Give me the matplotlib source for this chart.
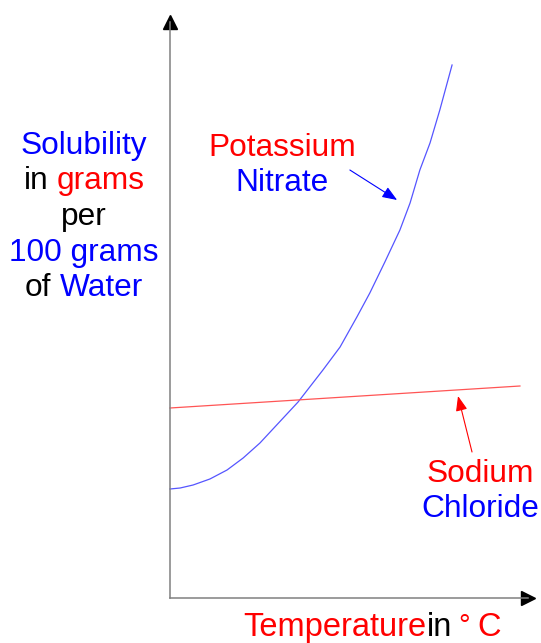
import matplotlib.pyplot as plt
from matplotlib.offsetbox import TextArea, HPacker, VPacker, AnnotationBbox

# Solubility curves (schematic units)
kno3_temp = [0, 2.9, 6.6, 11.4, 16.3, 20.9, 25.7, 36.6, 43.7, 48.6, 53.4,
             57.1, 61.4, 65.7, 68.6, 71.4, 74.3, 77.1, 80.6]
kno3_sol = [54.5, 55, 56.5, 59.5, 64, 70, 77.5, 98, 114, 125.5, 140.5,
            152.5, 168, 184, 197.5, 214, 227.5, 244, 266.5]
nacl_temp = [0, 100]
nacl_sol = [95, 106]

W, H = 541, 643
FONT = 'Liberation Sans'
FS = 22.8
BLUE = '#0000ff'
RED = '#ff0000'


def fig_xy(px, py):
    # pixel position (from top-left) -> figure fraction
    return px / W, 1 - py / H


fig = plt.figure(figsize=(W / 100, H / 100), dpi=100)
ax = fig.add_axes([170 / W, 45 / H, 358 / W, 576 / H])
ax.set_xlim(0, 102.3)
ax.set_ylim(0, 288)
ax.set_xticks([])
ax.set_yticks([])
for side in ['top', 'right']:
    ax.spines[side].set_visible(False)
for side in ['left', 'bottom']:
    ax.spines[side].set_color('#808080')
    ax.spines[side].set_linewidth(1.1)

# arrow heads on the axes
ax.plot(1, 0, '>', color='black', ms=10, transform=ax.transAxes, clip_on=False)
ax.plot(0, 1, '^', color='black', ms=10, transform=ax.transAxes, clip_on=False)

ax.plot(kno3_temp, kno3_sol, color='#5555ff', lw=0.9, clip_on=False)
ax.plot(nacl_temp, nacl_sol, color='#ff5555', lw=0.9, clip_on=False)

# curve labels
ax.annotate('', xy=(64.9, 199), xytext=(51.4, 214),
            arrowprops=dict(arrowstyle='-|>,head_length=0.9,head_width=0.35',
                            color=BLUE, lw=0.8, shrinkA=0, shrinkB=0))
ax.annotate('', xy=(82.3, 101), xytext=(86.3, 73),
            arrowprops=dict(arrowstyle='-|>,head_length=0.9,head_width=0.35',
                            color=RED, lw=0.8, shrinkA=0, shrinkB=0))

tp = dict(fontsize=FS, family=FONT, ha='center', va='center')
fig.text(*fig_xy(282, 148), 'Potassium', color=RED, **tp)
fig.text(*fig_xy(282, 183), 'Nitrate', color=BLUE, **tp)
fig.text(*fig_xy(480, 474), 'Sodium', color=RED, **tp)
fig.text(*fig_xy(480, 509), 'Chloride', color=BLUE, **tp)


# y-axis label, several colours per line
def word_line(parts):
    boxes = [TextArea(t, textprops=dict(color=c, fontsize=FS, family=FONT))
             for t, c in parts]
    return HPacker(children=boxes, sep=6, pad=0, align='baseline')


ylabel_lines = [
    [('Solubility', BLUE)],
    [('in', 'black'), ('grams', RED)],
    [('per', 'black')],
    [('100 grams', BLUE)],
    [('of', 'black'), ('Water', BLUE)],
]
vbox = VPacker(children=[word_line(p) for p in ylabel_lines],
               sep=4, pad=0, align='center')
fig.add_artist(AnnotationBbox(vbox, fig_xy(84, 217), xycoords='figure fraction',
                              frameon=False, box_alignment=(0.5, 0.5), pad=0))

# x-axis label
bl = dict(fontsize=23.5, family=FONT, va='baseline', ha='left')
fig.text(*fig_xy(243, 636), 'Temperature', color=RED, **bl)
fig.text(*fig_xy(427, 636), 'in', color='black', **bl)
fig.text(*fig_xy(458, 634), '\u00b0', color=RED, fontsize=21, family=FONT,
         va='baseline', ha='left')
fig.text(*fig_xy(477, 636), 'C', color=RED, **bl)

fig.savefig('out.png', dpi=100)
